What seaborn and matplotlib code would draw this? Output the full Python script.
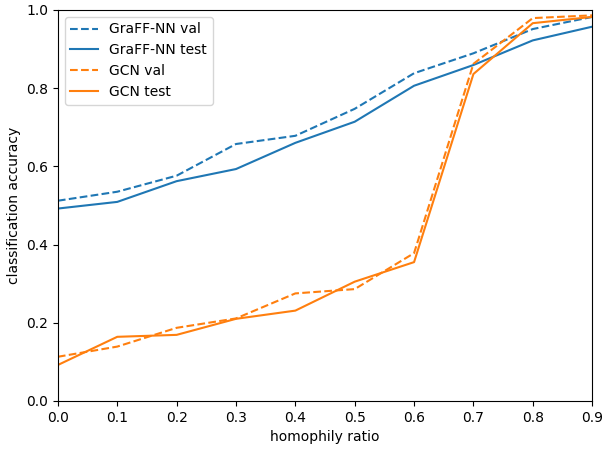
import numpy as np
import pandas as pd
import seaborn as sns
from matplotlib import pyplot as plt

# values
homophily = [0.0, 0.1, 0.2, 0.3, 0.4, 0.5, 0.6, 0.7, 0.8, 0.9]
graff_val = [0.512, 0.535, 0.576, 0.657, 0.678, 0.747, 0.838, 0.889, 0.951, 0.982]
graff_test = [0.492, 0.509, 0.562, 0.593, 0.660, 0.714, 0.806, 0.859, 0.922, 0.957]
gcn_val = [0.113, 0.139, 0.187, 0.211, 0.275, 0.286, 0.378, 0.862, 0.979, 0.986]
gcn_test = [0.092, 0.164, 0.169, 0.210, 0.231, 0.305, 0.355, 0.836, 0.966, 0.982]

series = [
    ('GraFF-NN val', graff_val, 'tab:blue', '--'),
    ('GraFF-NN test', graff_test, 'tab:blue', '-'),
    ('GCN val', gcn_val, 'tab:orange', '--'),
    ('GCN test', gcn_test, 'tab:orange', '-'),
]

fig, ax = plt.subplots(figsize=(6.03, 4.49), dpi=100)
fig.subplots_adjust(left=0.096, right=0.982, top=0.978, bottom=0.107)

for name, vals, col, ls in series:
    df = pd.DataFrame({'x': homophily, 'y': vals})
    sns.lineplot(data=df, x='x', y='y', ax=ax, color=col, linestyle=ls, label=name)

ax.set_xlim(0.0, 0.9)
ax.set_ylim(0.0, 1.0)
ax.set_xticks(np.arange(0, 0.91, 0.1))
ax.set_xlabel('homophily ratio')
ax.set_ylabel('classification accuracy')
ax.legend(loc='upper left')

plt.savefig('out.png', dpi=100)
